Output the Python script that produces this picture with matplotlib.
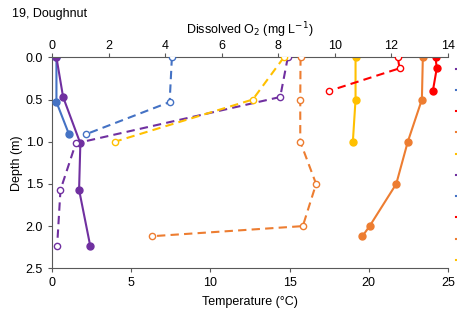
import numpy as np
import matplotlib.pyplot as plt
from matplotlib.lines import Line2D

plt.rcParams['font.family'] = ['Liberation Sans', 'DejaVu Sans']
plt.rcParams['font.size'] = 9

# profile colours (one per sampling date)
cores = {
    'roxo': '#7030A0',
    'azul': '#4472C4',
    'vermelho': '#FF0000',
    'laranja': '#ED7D31',
    'amarelo': '#FFC000',
}

# temperatura (°C) vs profundidade (m) - linhas cheias
temp_azul_z = [0.0, 0.53, 0.91]
temp_azul = [0.28, 0.28, 1.07]
temp_roxo_z = [0.0, 0.47, 1.02, 1.57, 2.24]
temp_roxo = [0.28, 0.70, 1.79, 1.71, 2.42]
temp_amarelo_z = [0.0, 0.5, 1.0]
temp_amarelo = [19.17, 19.17, 19.0]
temp_vermelho_z = [0.0, 0.13, 0.40]
temp_vermelho = [24.22, 24.3, 24.05]
temp_laranja_z = [0.0, 0.5, 1.0, 1.5, 2.0, 2.12]
temp_laranja = [23.42, 23.36, 22.47, 21.74, 20.06, 19.6]

# oxigenio dissolvido (mg/L) - linhas tracejadas
od_azul_z = [0.0, 0.53, 0.91]
od_azul = [4.24, 4.16, 1.21]
od_roxo_z = [0.0, 0.47, 1.02, 1.57, 2.24]
od_roxo = [8.34, 8.07, 0.84, 0.30, 0.18]
od_amarelo_z = [0.0, 0.5, 1.0]
od_amarelo = [8.2, 7.1, 2.22]
od_vermelho_z = [0.0, 0.13, 0.40]
od_vermelho = [12.23, 12.29, 9.78]
od_laranja_z = [0.0, 0.5, 1.0, 1.5, 2.0, 2.12]
od_laranja = [8.79, 8.78, 8.78, 9.34, 8.87, 3.53]

temps = [
    ('azul', temp_azul, temp_azul_z),
    ('roxo', temp_roxo, temp_roxo_z),
    ('amarelo', temp_amarelo, temp_amarelo_z),
    ('vermelho', temp_vermelho, temp_vermelho_z),
    ('laranja', temp_laranja, temp_laranja_z),
]
ods = [
    ('azul', od_azul, od_azul_z),
    ('roxo', od_roxo, od_roxo_z),
    ('amarelo', od_amarelo, od_amarelo_z),
    ('vermelho', od_vermelho, od_vermelho_z),
    ('laranja', od_laranja, od_laranja_z),
]

fig = plt.figure(figsize=(4.57, 3.13), dpi=100)
ax = fig.add_axes([0.1138, 0.1428, 0.8662, 0.674])
ax2 = ax.twiny()

for nome, x, z in temps:
    ax.plot(x, z, '-', color=cores[nome], lw=1.5, marker='o', ms=5, zorder=3)

for nome, x, z in ods:
    ax2.plot(x, z, '--', color=cores[nome], lw=1.5, marker='o', ms=4.5,
             mfc='white', mec=cores[nome], mew=1, dashes=(4, 2.5), zorder=3)

ax.set_xlim(0, 25)
ax2.set_xlim(0, 14)
ax.set_ylim(2.5, 0)
ax.set_xticks([0, 5, 10, 15, 20, 25])
ax2.set_xticks(np.arange(0, 15, 2))
ax.set_yticks([0, 0.5, 1.0, 1.5, 2.0, 2.5])
ax.set_yticklabels(['0.0', '0.5', '1.0', '1.5', '2.0', '2.5'])

for a in (ax, ax2):
    a.spines['right'].set_visible(False)
    for s in ('left', 'bottom', 'top'):
        a.spines[s].set_color('#595959')
    a.tick_params(colors='#595959', labelcolor='black', length=3, labelsize=9)
ax.spines['top'].set_visible(False)
ax2.spines['bottom'].set_visible(False)
ax2.spines['left'].set_visible(False)
ax2.tick_params(axis='x', pad=1)
ax.tick_params(axis='x', pad=3)

ax.set_xlabel('Temperature (°C)', fontsize=9, labelpad=5)
ax.set_ylabel('Depth (m)', fontsize=9, labelpad=2)
ax2.set_xlabel('Dissolved O$_2$ (mg L$^{-1}$)', fontsize=9, labelpad=4)

fig.text(0.026, 0.955, '19, Doughnut', fontsize=9, va='center')

# legenda cortada na borda direita (só a ponta dos marcadores aparece)
ordem = ['roxo', 'azul', 'vermelho', 'laranja', 'amarelo']
handles = [Line2D([], [], color=cores[n], lw=1.5) for n in ordem] * 2
rotulos = [''] * 10
fig.legend(handles, rotulos, loc='upper left', bbox_to_anchor=(455.6 / 457, 1 - 64 / 313),
           frameon=False, borderpad=0, borderaxespad=0, labelspacing=0.74,
           handlelength=2, fontsize=9)

fig.savefig('out.png', dpi=100)
